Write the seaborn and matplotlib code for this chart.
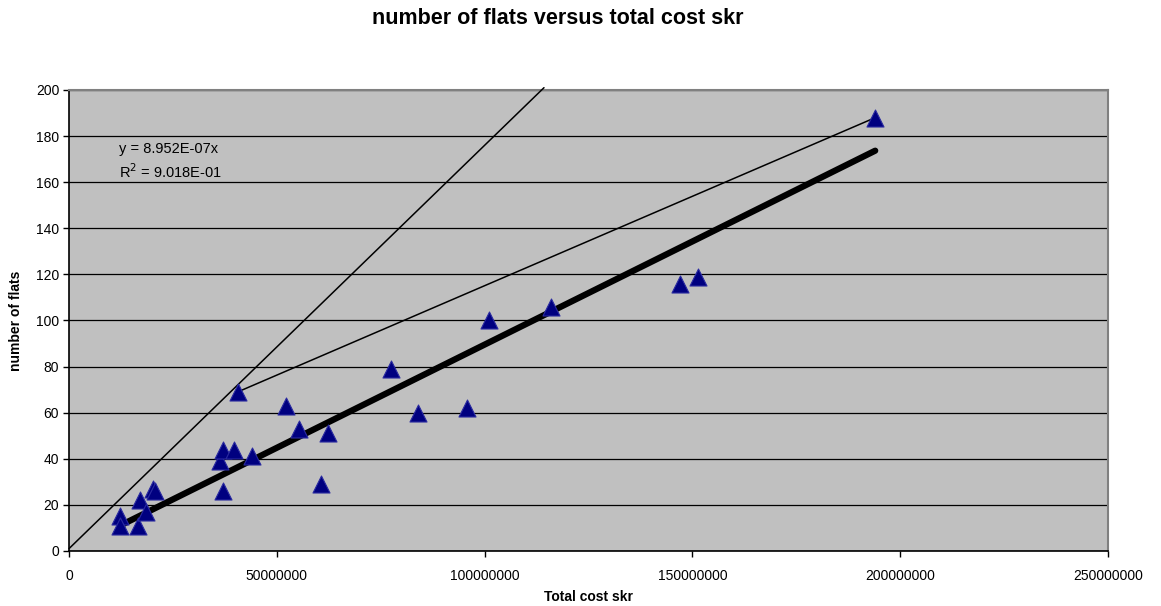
import numpy as np
import pandas as pd
import matplotlib
matplotlib.use("Agg")
import matplotlib.pyplot as plt
import seaborn as sns

# data
total_cost = [12.3e6, 12.3e6, 16.6e6, 17.1e6, 18.5e6, 20.2e6, 20.7e6, 36.3e6,
              37.0e6, 37.0e6, 39.7e6, 40.6e6, 44.0e6, 52.2e6, 55.3e6, 60.6e6,
              62.3e6, 77.4e6, 84.1e6, 95.7e6, 101.0e6, 116.1e6, 147.1e6,
              151.4e6, 194.0e6]
n_flats = [15, 11, 11, 22, 17, 27, 26, 39, 44, 26, 44, 69, 41, 63, 53, 29,
           51, 79, 60, 62, 100, 106, 116, 119, 188]

trend_slope = 8.952e-07

# hand-drawn reference lines in the original
line_a_x = [0, 114.3e6]
line_a_y = [1, 201]
line_b_x = [40.6e6, 194.0e6]
line_b_y = [69, 188]

df = pd.DataFrame({"cost": total_cost, "flats": n_flats})

sns.set_theme(style="white")
plt.rcParams['font.family'] = ['Liberation Sans', 'DejaVu Sans']
plt.rcParams['text.color'] = 'black'
plt.rcParams['axes.labelcolor'] = 'black'
plt.rcParams['xtick.color'] = 'black'
plt.rcParams['ytick.color'] = 'black'

fig = plt.figure(figsize=(11.61, 6.06), dpi=100)
ax = fig.add_axes([0.0594, 0.0908, 0.8949, 0.7607])
ax.set_facecolor("#c0c0c0")

ax.set_xlim(0, 250000000)
ax.set_ylim(0, 200)
ax.set_xticks(np.arange(0, 250000001, 50000000))
ax.set_yticks(np.arange(0, 201, 20))
ax.xaxis.set_major_formatter(matplotlib.ticker.FuncFormatter(lambda v, p: "%d" % v))
ax.yaxis.grid(True, color="black", linewidth=0.9)
ax.set_axisbelow(True)

# trendline (through origin)
xs = np.array([min(total_cost), max(total_cost)])
sns.lineplot(x=xs, y=trend_slope * xs, ax=ax, color="black", linewidth=4.5,
             solid_capstyle="round", zorder=3)

ax.plot(line_a_x, line_a_y, color="black", linewidth=1.1, clip_on=False, zorder=3)
ax.plot(line_b_x, line_b_y, color="black", linewidth=1.1, zorder=3)

sns.scatterplot(data=df, x="cost", y="flats", ax=ax, marker="^", s=150,
                color="#000080", edgecolor="#2a2aa0", linewidth=0.8, zorder=4)

ax.text(0.048, 0.863, "y = 8.952E-07x", transform=ax.transAxes, fontsize=10.5)
ax.text(0.048, 0.808, "R$^2$ = 9.018E-01", transform=ax.transAxes, fontsize=10.5)

for side in ["top", "right"]:
    ax.spines[side].set_color("#808080")
    ax.spines[side].set_linewidth(1.5)
for side in ["left", "bottom"]:
    ax.spines[side].set_color("black")
    ax.spines[side].set_linewidth(1.2)

ax.tick_params(axis="both", direction="out", length=4, width=1,
               labelsize=10, bottom=True, left=True)
ax.tick_params(axis="x", pad=9)
ax.tick_params(axis="y", pad=3)
ax.set_xlabel("Total cost skr", fontsize=10, fontweight="bold", labelpad=5)
ax.set_ylabel("number of flats", fontsize=10, fontweight="bold", labelpad=9)

fig.text(0.48, 0.970, "number of flats versus total cost skr", fontsize=15.5,
         fontweight="bold", ha="center", va="center")

fig.savefig("out.png", dpi=100, facecolor="white")
